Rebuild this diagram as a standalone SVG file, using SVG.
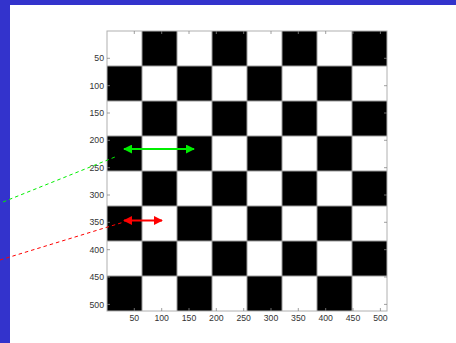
<svg xmlns="http://www.w3.org/2000/svg" width="456" height="343" viewBox="0 0 456 343">
<defs>
<style>
.lbl{font-family:"Liberation Sans",Arial,sans-serif;font-size:8.7px;fill:#333}
.grid{stroke:#9a9a9a;stroke-width:1}
.tick{stroke:#888;stroke-width:0.8}
</style>
<marker id="ahG" viewBox="0 0 10 10" refX="9" refY="5" markerWidth="4.5" markerHeight="4.5" orient="auto-start-reverse" markerUnits="strokeWidth"><path d="M0,0 L10,5 L0,10 z" fill="#00ee00"/></marker>
<marker id="ahR" viewBox="0 0 10 10" refX="9" refY="5" markerWidth="4.5" markerHeight="4.5" orient="auto-start-reverse" markerUnits="strokeWidth"><path d="M0,0 L10,5 L0,10 z" fill="#ff0000"/></marker>
</defs>
<rect x="0" y="0" width="456" height="343" fill="#ffffff"/>
<rect x="0" y="0" width="456" height="5" fill="#3333cc"/>
<rect x="0" y="0" width="10" height="343" fill="#3333cc"/>
<g id="board">
<rect x="107" y="31" width="280" height="280" fill="#fff"/>
<g fill="#000">
<rect x="142" y="31" width="35" height="35"/><rect x="212" y="31" width="35" height="35"/><rect x="282" y="31" width="35" height="35"/><rect x="352" y="31" width="35" height="35"/>
<rect x="107" y="66" width="35" height="35"/><rect x="177" y="66" width="35" height="35"/><rect x="247" y="66" width="35" height="35"/><rect x="317" y="66" width="35" height="35"/>
<rect x="142" y="101" width="35" height="35"/><rect x="212" y="101" width="35" height="35"/><rect x="282" y="101" width="35" height="35"/><rect x="352" y="101" width="35" height="35"/>
<rect x="107" y="136" width="35" height="35"/><rect x="177" y="136" width="35" height="35"/><rect x="247" y="136" width="35" height="35"/><rect x="317" y="136" width="35" height="35"/>
<rect x="142" y="171" width="35" height="35"/><rect x="212" y="171" width="35" height="35"/><rect x="282" y="171" width="35" height="35"/><rect x="352" y="171" width="35" height="35"/>
<rect x="107" y="206" width="35" height="35"/><rect x="177" y="206" width="35" height="35"/><rect x="247" y="206" width="35" height="35"/><rect x="317" y="206" width="35" height="35"/>
<rect x="142" y="241" width="35" height="35"/><rect x="212" y="241" width="35" height="35"/><rect x="282" y="241" width="35" height="35"/><rect x="352" y="241" width="35" height="35"/>
<rect x="107" y="276" width="35" height="35"/><rect x="177" y="276" width="35" height="35"/><rect x="247" y="276" width="35" height="35"/><rect x="317" y="276" width="35" height="35"/>
</g>
<g class="grid">
<line x1="142" y1="31" x2="142" y2="311"/><line x1="177" y1="31" x2="177" y2="311"/><line x1="212" y1="31" x2="212" y2="311"/><line x1="247" y1="31" x2="247" y2="311"/><line x1="282" y1="31" x2="282" y2="311"/><line x1="317" y1="31" x2="317" y2="311"/><line x1="352" y1="31" x2="352" y2="311"/>
<line x1="107" y1="66" x2="387" y2="66"/><line x1="107" y1="101" x2="387" y2="101"/><line x1="107" y1="136" x2="387" y2="136"/><line x1="107" y1="171" x2="387" y2="171"/><line x1="107" y1="206" x2="387" y2="206"/><line x1="107" y1="241" x2="387" y2="241"/><line x1="107" y1="276" x2="387" y2="276"/>
</g>
<rect x="107" y="31" width="280" height="280" fill="none" stroke="#b0b0b0" stroke-width="1"/>
</g>
<g id="ticks" class="tick">
<line x1="134.3" y1="31" x2="134.3" y2="34"/><line x1="161.7" y1="31" x2="161.7" y2="34"/><line x1="189" y1="31" x2="189" y2="34"/><line x1="216.3" y1="31" x2="216.3" y2="34"/><line x1="243.7" y1="31" x2="243.7" y2="34"/><line x1="271" y1="31" x2="271" y2="34"/><line x1="298.3" y1="31" x2="298.3" y2="34"/><line x1="325.7" y1="31" x2="325.7" y2="34"/><line x1="353" y1="31" x2="353" y2="34"/><line x1="380.4" y1="31" x2="380.4" y2="34"/>
<line x1="134.3" y1="311" x2="134.3" y2="308"/><line x1="161.7" y1="311" x2="161.7" y2="308"/><line x1="189" y1="311" x2="189" y2="308"/><line x1="216.3" y1="311" x2="216.3" y2="308"/><line x1="243.7" y1="311" x2="243.7" y2="308"/><line x1="271" y1="311" x2="271" y2="308"/><line x1="298.3" y1="311" x2="298.3" y2="308"/><line x1="325.7" y1="311" x2="325.7" y2="308"/><line x1="353" y1="311" x2="353" y2="308"/><line x1="380.4" y1="311" x2="380.4" y2="308"/>
<line x1="107" y1="58.3" x2="110" y2="58.3"/><line x1="107" y1="85.7" x2="110" y2="85.7"/><line x1="107" y1="113" x2="110" y2="113"/><line x1="107" y1="140.3" x2="110" y2="140.3"/><line x1="107" y1="167.7" x2="110" y2="167.7"/><line x1="107" y1="195" x2="110" y2="195"/><line x1="107" y1="222.3" x2="110" y2="222.3"/><line x1="107" y1="249.7" x2="110" y2="249.7"/><line x1="107" y1="277" x2="110" y2="277"/><line x1="107" y1="304.4" x2="110" y2="304.4"/>
<line x1="387" y1="58.3" x2="384" y2="58.3"/><line x1="387" y1="85.7" x2="384" y2="85.7"/><line x1="387" y1="113" x2="384" y2="113"/><line x1="387" y1="140.3" x2="384" y2="140.3"/><line x1="387" y1="167.7" x2="384" y2="167.7"/><line x1="387" y1="195" x2="384" y2="195"/><line x1="387" y1="222.3" x2="384" y2="222.3"/><line x1="387" y1="249.7" x2="384" y2="249.7"/><line x1="387" y1="277" x2="384" y2="277"/><line x1="387" y1="304.4" x2="384" y2="304.4"/>
</g>
<g id="ylabels" class="lbl" text-anchor="end">
<text x="104" y="61.4">50</text><text x="104" y="88.8">100</text><text x="104" y="116.1">150</text><text x="104" y="143.4">200</text><text x="104" y="170.8">250</text><text x="104" y="198.1">300</text><text x="104" y="225.4">350</text><text x="104" y="252.8">400</text><text x="104" y="280.1">450</text><text x="104" y="307.5">500</text>
</g>
<g id="xlabels" class="lbl" text-anchor="middle">
<text x="134.3" y="320.8">50</text><text x="161.7" y="320.8">100</text><text x="189" y="320.8">150</text><text x="216.3" y="320.8">200</text><text x="243.7" y="320.8">250</text><text x="271" y="320.8">300</text><text x="298.3" y="320.8">350</text><text x="325.7" y="320.8">400</text><text x="353" y="320.8">450</text><text x="380.4" y="320.8">500</text>
</g>
<g id="connectors">
<line x1="3" y1="202" x2="115" y2="157" stroke="#00ee00" stroke-width="1" stroke-dasharray="3.5,3"/>
<line x1="0" y1="260" x2="124" y2="222" stroke="#ff0000" stroke-width="1" stroke-dasharray="3.5,3"/>
<line x1="124" y1="149" x2="194" y2="149" stroke="#00ee00" stroke-width="2" marker-start="url(#ahG)" marker-end="url(#ahG)"/>
<line x1="124" y1="220.5" x2="162" y2="220.5" stroke="#ff0000" stroke-width="2" marker-start="url(#ahR)" marker-end="url(#ahR)"/>
</g>
</svg>
